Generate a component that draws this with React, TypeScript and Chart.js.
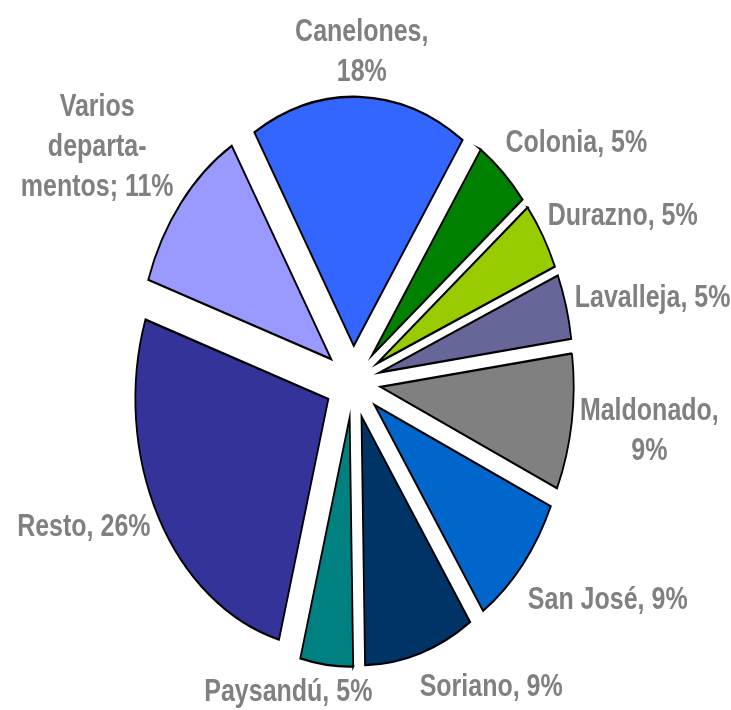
import React, { useEffect, useRef } from 'react';
import { Chart, registerables } from 'chart.js';

Chart.register(...registerables);

const categories = [
  'Canelones',
  'Colonia',
  'Durazno',
  'Lavalleja',
  'Maldonado',
  'San José',
  'Soriano',
  'Paysandú',
  'Resto',
  'Varios departamentos',
];
const shares = [18.1, 4.7, 4.4, 4.2, 8.8, 8.8, 9.2, 4.4, 26.0, 11.2];
const labelLines = [
  ['Canelones,', '18%'],
  ['Colonia, 5%'],
  ['Durazno, 5%'],
  ['Lavalleja, 5%'],
  ['Maldonado,', '9%'],
  ['San José, 9%'],
  ['Soriano, 9%'],
  ['Paysandú, 5%'],
  ['Resto, 26%'],
  ['Varios', 'departa-', 'mentos; 11%'],
];
const colors = [
  '#3366FF',
  '#008000',
  '#99CC00',
  '#666699',
  '#808080',
  '#0066CC',
  '#003366',
  '#008080',
  '#333399',
  '#9999FF',
];
// label nudges relative to the automatic outside-end placement (unstretched px)
const labelNudgeX = [0, 13, 0, -6, -9, 10, 44, -26, 0, -10];
const labelNudgeY = [14, 2, 2, 2, 0, 6, -6, -12, -8, -3];

const STRETCH = 1.29;
const EXPLODE = 28;
const LABEL_GAP = 18;
const FONT = 'bold 25px "Liberation Sans", Arial, sans-serif';
const LINE_H = 31;

const explodeStretchPlugin = {
  id: 'explodeStretch',
  afterDatasetsUpdate(chart: any) {
    const meta = chart.getDatasetMeta(0);
    meta.data.forEach((arc: any) => {
      const mid = (arc.startAngle + arc.endAngle) / 2;
      arc.x += Math.cos(mid) * EXPLODE;
      arc.y += Math.sin(mid) * EXPLODE;
    });
  },
  beforeDatasetsDraw(chart: any) {
    const ctx = chart.ctx;
    ctx.save();
    ctx.scale(1, STRETCH);
  },
  afterDatasetsDraw(chart: any) {
    const ctx = chart.ctx;
    const meta = chart.getDatasetMeta(0);
    ctx.font = FONT;
    ctx.fillStyle = '#808080';
    ctx.textAlign = 'center';
    ctx.textBaseline = 'middle';
    meta.data.forEach((arc: any, i: number) => {
      const lines = labelLines[i];
      const mid = (arc.startAngle + arc.endAngle) / 2;
      const dx = Math.cos(mid);
      const dy = Math.sin(mid);
      const r = arc.outerRadius + LABEL_GAP;
      const ax = arc.x + dx * r;
      const ay = arc.y + dy * r;
      const w = Math.max(...lines.map((l) => ctx.measureText(l).width));
      const h = lines.length * LINE_H;
      const bx = ax + (dx * w) / 2 + labelNudgeX[i];
      const by = ay + (dy * h) / 2 + labelNudgeY[i];
      lines.forEach((l, j) => {
        ctx.fillText(l, bx, by - h / 2 + LINE_H * (j + 0.5));
      });
    });
    ctx.restore();
  },
};

export default function App() {
  const ref = useRef<HTMLCanvasElement | null>(null);
  useEffect(() => {
    if (!ref.current) return;
    const chart = new Chart(ref.current, {
      type: 'pie',
      data: {
        labels: categories,
        datasets: [
          {
            data: shares,
            backgroundColor: colors,
            borderColor: '#000000',
            borderWidth: 1.8,
            borderJoinStyle: 'miter',
            clip: false,
          } as any,
        ],
      },
      options: {
        responsive: false,
        animation: false,
        events: [],
        rotation: -31,
        radius: 193,
        layout: { padding: { left: 0, right: 25, top: 0, bottom: 118 } },
        plugins: {
          legend: { display: false },
          tooltip: { enabled: false },
        },
      } as any,
      plugins: [explodeStretchPlugin],
    });
    return () => chart.destroy();
  }, []);
  return (
    <div style={{ position: 'absolute', left: 0, top: 0, width: 731, height: 710, background: '#fff' }}>
      <canvas ref={ref} width={731} height={710} style={{ display: 'block' }} />
    </div>
  );
}
